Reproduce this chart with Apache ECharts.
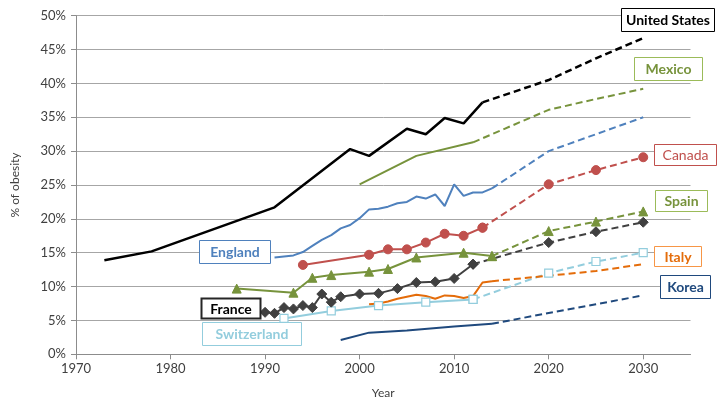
<!DOCTYPE html>
<html>
<head>
<meta charset="utf-8">
<script src="https://cdn.jsdelivr.net/npm/echarts@6/dist/echarts.min.js"></script>
<style>
html,body{margin:0;padding:0;background:#fff;}
#chart{width:722px;height:419px;}
</style>
</head>
<body>
<div id="chart"></div>
<script>
// ---- Data ----
const xTicks = [1970, 1980, 1990, 2000, 2010, 2020, 2030];
const yTicks = [0, 5, 10, 15, 20, 25, 30, 35, 40, 45, 50];

const usYears = [1973, 1978, 1991, 1999, 2001, 2005, 2007, 2009, 2011, 2013];
const usValues = [13.9, 15.2, 21.7, 30.3, 29.3, 33.3, 32.5, 34.9, 34.1, 37.2];
const usProjYears = [2013, 2020, 2025, 2030];
const usProjValues = [37.2, 40.5, 43.7, 46.7];

const mexicoYears = [2000, 2006, 2012];
const mexicoValues = [25.1, 29.3, 31.3];
const mexicoProjYears = [2012, 2020, 2025, 2030];
const mexicoProjValues = [31.3, 36.1, 37.7, 39.2];

const englandYears = [1991, 1993, 1994, 1995, 1996, 1997, 1998, 1999, 2000, 2001, 2002, 2003, 2004, 2005, 2006, 2007, 2008, 2009, 2010, 2011, 2012, 2013, 2014];
const englandValues = [14.3, 14.6, 15.1, 16.0, 16.9, 17.6, 18.6, 19.1, 20.1, 21.4, 21.5, 21.8, 22.3, 22.5, 23.3, 23.0, 23.6, 21.9, 25.1, 23.4, 23.9, 23.9, 24.5];
const englandProjYears = [2014, 2020, 2025, 2030];
const englandProjValues = [24.5, 30.0, 32.5, 35.0];

const canadaYears = [1994, 2001, 2003, 2005, 2007, 2009, 2011, 2013];
const canadaValues = [13.2, 14.7, 15.5, 15.5, 16.5, 17.8, 17.5, 18.7];
const canadaProjYears = [2013, 2020, 2025, 2030];
const canadaProjValues = [18.7, 25.1, 27.2, 29.1];

const spainYears = [1987, 1993, 1995, 1997, 2001, 2003, 2006, 2011, 2014];
const spainValues = [9.7, 9.1, 11.3, 11.7, 12.2, 12.6, 14.3, 15.0, 14.5];
const spainProjYears = [2014, 2020, 2025, 2030];
const spainProjValues = [14.5, 18.2, 19.6, 21.1];

const franceYears = [1990, 1991, 1992, 1993, 1994, 1995, 1996, 1997, 1998, 2000, 2002, 2004, 2006, 2008, 2010, 2012];
const franceValues = [6.2, 6.05, 6.9, 6.7, 7.2, 6.9, 8.9, 7.7, 8.5, 8.9, 9.0, 9.7, 10.6, 10.7, 11.2, 13.3];
const franceProjYears = [2012, 2020, 2025, 2030];
const franceProjValues = [13.3, 16.5, 18.1, 19.5];

const italyYears = [2001, 2002, 2003, 2004, 2005, 2006, 2007, 2008, 2009, 2010, 2011, 2012, 2013, 2014];
const italyValues = [7.4, 7.5, 7.8, 8.2, 8.5, 8.8, 8.6, 8.2, 8.7, 8.6, 8.3, 8.6, 10.6, 10.8];
const italyProjYears = [2014, 2020, 2025, 2030];
const italyProjValues = [10.8, 11.6, 12.3, 13.3];

const switzerlandYears = [1992, 1997, 2002, 2007, 2012];
const switzerlandValues = [5.3, 6.4, 7.2, 7.7, 8.1];
const switzerlandProjYears = [2012, 2020, 2025, 2030];
const switzerlandProjValues = [8.1, 12.0, 13.7, 15.0];

const koreaYears = [1998, 2001, 2005, 2010, 2014];
const koreaValues = [2.1, 3.2, 3.5, 4.1, 4.5];
const koreaProjYears = [2014, 2020, 2025, 2030];
const koreaProjValues = [4.5, 6.1, 7.4, 8.7];

// ---- Build ----
const zip = (xs, ys) => xs.map((x, i) => [x, ys[i]]);

function pair(name, color, years, vals, pYears, pVals, opts) {
  opts = opts || {};
  const width = opts.width || 2;
  const base = {
    type: 'line',
    symbol: opts.symbol || 'none',
    symbolSize: opts.symbolSize || 8,
    showSymbol: !!opts.symbol,
    itemStyle: opts.hollow
      ? { color: '#fff', borderColor: color, borderWidth: 1.2 }
      : { color: color, borderColor: color },
    emphasis: { disabled: true },
    animation: false,
    z: 2
  };
  return [
    Object.assign({}, base, {
      name: name,
      data: zip(years, vals),
      lineStyle: { color: color, width: width, type: 'solid' }
    }),
    Object.assign({}, base, {
      name: name + ' projection',
      data: zip(pYears, pVals),
      lineStyle: { color: color, width: width, type: [7, 4] }
    })
  ];
}

const C = {
  us: '#000000',
  mexico: '#77933c',
  england: '#4f81bd',
  canada: '#c0504d',
  spain: '#77933c',
  france: '#404040',
  italy: '#e46c0a',
  switzerland: '#93cddd',
  korea: '#1f497d'
};

const series = [].concat(
  pair('Korea', C.korea, koreaYears, koreaValues, koreaProjYears, koreaProjValues),
  pair('Switzerland', C.switzerland, switzerlandYears, switzerlandValues, switzerlandProjYears, switzerlandProjValues, { symbol: 'rect', symbolSize: 8, hollow: true }),
  pair('Italy', C.italy, italyYears, italyValues, italyProjYears, italyProjValues),
  pair('France', C.france, franceYears, franceValues, franceProjYears, franceProjValues, { symbol: 'diamond', symbolSize: 10 }),
  pair('Spain', C.spain, spainYears, spainValues, spainProjYears, spainProjValues, { symbol: 'triangle', symbolSize: 9 }),
  pair('Canada', C.canada, canadaYears, canadaValues, canadaProjYears, canadaProjValues, { symbol: 'circle', symbolSize: 9 }),
  pair('England', C.england, englandYears, englandValues, englandProjYears, englandProjValues),
  pair('Mexico', C.mexico, mexicoYears, mexicoValues, mexicoProjYears, mexicoProjValues),
  pair('United States', C.us, usYears, usValues, usProjYears, usProjValues, { width: 2.5 })
);

const FONT = 'Lato, "Liberation Sans", sans-serif';

function box(text, x1, y1, x2, y2, color, border, bold, bw) {
  return [
    {
      type: 'rect',
      z: 100,
      shape: { x: x1 + 0.5, y: y1 + 0.5, width: x2 - x1, height: y2 - y1 },
      style: { fill: '#ffffff', stroke: border, lineWidth: bw || 1 }
    },
    {
      type: 'text',
      z: 101,
      x: (x1 + x2) / 2 + 0.5,
      y: (y1 + y2) / 2 + 1,
      style: {
        text: text,
        fill: color,
        font: (bold ? 'bold ' : '') + '14px ' + FONT,
        textAlign: 'center',
        textVerticalAlign: 'middle'
      }
    }
  ];
}

const graphics = [].concat(
  box('United States', 621, 8, 714, 31, '#000000', '#000000', true, 1),
  box('Mexico', 634, 57, 702, 80, '#77933c', '#9bbb59', true, 1),
  box('Canada', 654, 144, 716, 165, '#c0504d', '#c0504d', false, 1),
  box('Spain', 655, 190, 707, 211, '#77933c', '#9bbb59', true, 1),
  box('Italy', 654, 246, 701, 266, '#e46c0a', '#f79646', true, 1),
  box('Korea', 660, 275, 710, 298, '#1f497d', '#1f497d', true, 1),
  box('England', 199, 240, 270, 263, '#4f81bd', '#4f81bd', true, 1),
  box('France', 201, 298, 260, 318, '#000000', '#262626', true, 2),
  box('Switzerland', 202, 322, 301, 345, '#93cddd', '#93cddd', true, 1)
);

const chart = echarts.init(document.getElementById('chart'), null, { renderer: 'canvas' });
chart.setOption({
  backgroundColor: '#fff',
  animation: false,
  grid: { left: 76, right: 31.5, top: 15.7, bottom: 64.7, containLabel: false },
  xAxis: {
    type: 'value',
    min: 1970,
    max: 2035,
    interval: 10,
    name: 'Year',
    nameLocation: 'middle',
    nameGap: 33,
    nameTextStyle: { fontSize: 12, color: '#404040', fontFamily: FONT },
    axisLine: { show: true, lineStyle: { color: '#8c8c8c', width: 1 } },
    axisTick: { show: true, length: 5, lineStyle: { color: '#8c8c8c' }, customValues: xTicks },
    axisLabel: { color: '#404040', fontSize: 13, margin: 8, fontFamily: FONT, customValues: xTicks, formatter: function (v) { return String(v); } },
    splitLine: { show: false }
  },
  yAxis: {
    type: 'value',
    min: 0,
    max: 50,
    interval: 5,
    name: '% of obesity',
    nameLocation: 'middle',
    nameRotate: 90,
    nameGap: 55,
    nameTextStyle: { fontSize: 12, color: '#404040', fontFamily: FONT },
    axisLine: { show: true, lineStyle: { color: '#8c8c8c', width: 1 } },
    axisTick: { show: true, length: 5, lineStyle: { color: '#8c8c8c' } },
    axisLabel: { color: '#404040', fontSize: 13, margin: 10, formatter: '{value}%', fontFamily: FONT },
    splitLine: { show: true, lineStyle: { color: '#a6a6a6', width: 1 } }
  },
  series: series,
  graphic: graphics
});
</script>
</body>
</html>
